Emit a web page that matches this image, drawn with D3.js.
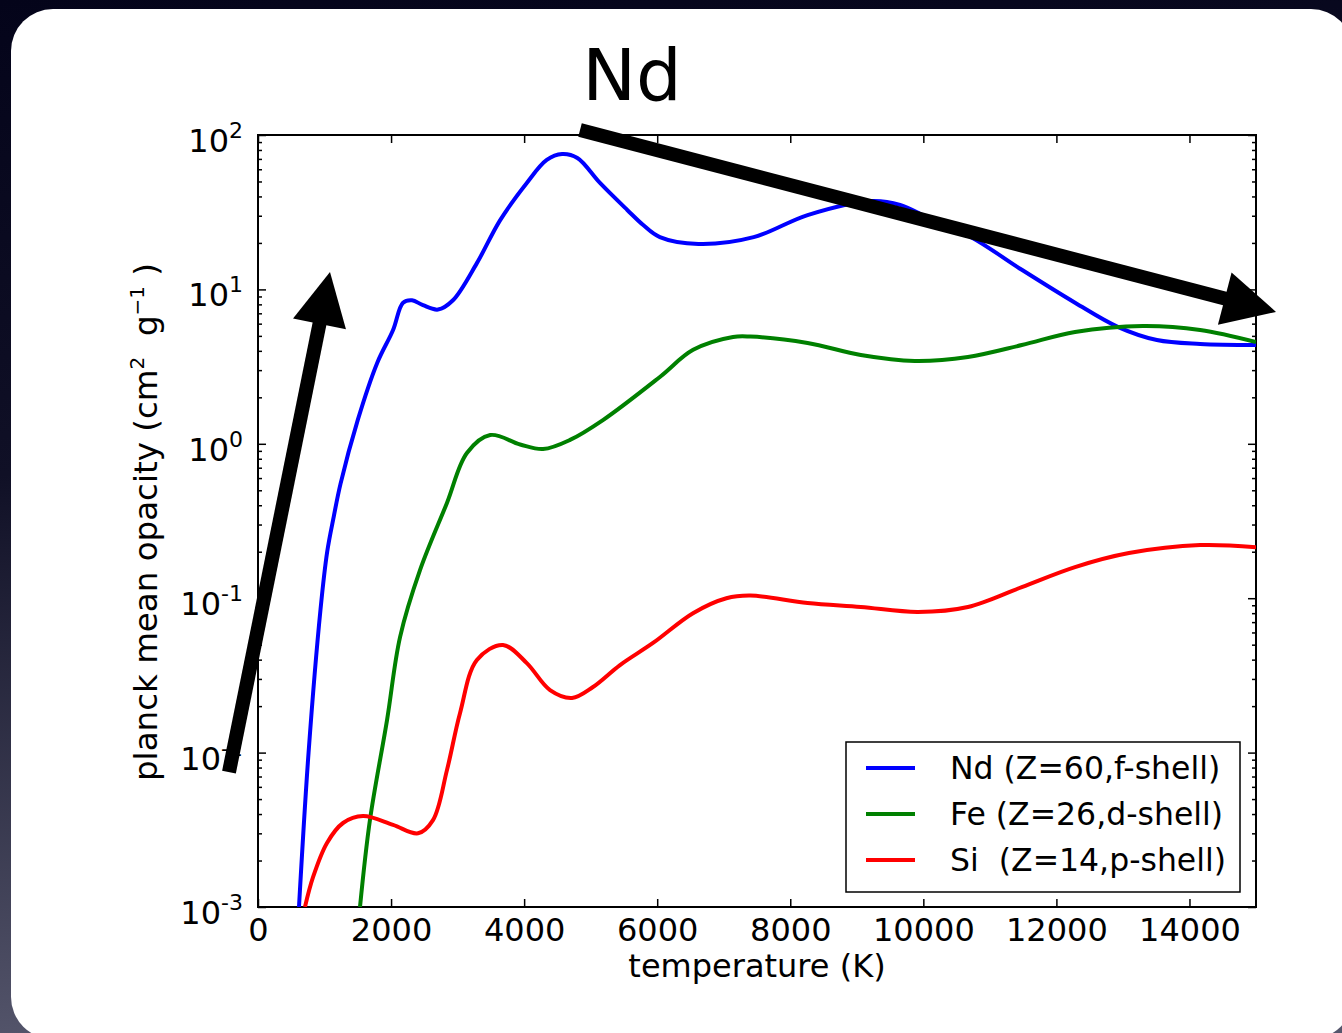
<!DOCTYPE html>
<html>
<head>
<meta charset="utf-8">
<script src="https://cdn.jsdelivr.net/npm/d3@7"></script>
<style>
  html, body { margin: 0; padding: 0; background: #05051a; }
  svg { display: block; }
  text { font-family: "DejaVu Sans", sans-serif; }
</style>
</head>
<body>
<div id="chart"></div>
<script>
'use strict';

// temperatures (K) and planck mean opacities (cm^2/g)
var ndTemp = [616, 760, 940, 1040, 1140, 1240, 1500, 1790, 2030, 2180, 2315, 2480, 2705, 2930,
  3290, 3640, 4040, 4340, 4570, 4800, 5140, 5550, 5790, 6040, 6620, 7450, 8260, 9220, 9650, 10080,
  10720, 11480, 12280, 12930, 13510, 14160, 15000];
var ndOpacity = [1e-3, 1e-2, 0.085, 0.2, 0.34, 0.55, 1.43, 3.33, 5.46, 8.2, 8.5, 7.9, 7.4, 8.5,
  14.8, 28.1, 48.9, 68.9, 75.3, 71, 48.9, 32.7, 26.1, 21.8, 19.7, 21.8, 30.3, 37.4, 35.3, 29,
  21.8, 13.4, 8.2, 5.7, 4.7, 4.43, 4.36];

var feTemp = [1533, 1683, 1940, 2135, 2435, 2840, 3140, 3490, 3940, 4285, 4690, 5190, 6040,
  6540, 7140, 7400, 8260, 9060, 9870, 10670, 11480, 12280, 13300, 14160, 15000];
var feOpacity = [1e-3, 3.67e-3, 0.0163, 0.056, 0.152, 0.414, 0.872, 1.14, 0.99, 0.925, 1.06, 1.43, 2.71,
  4.06, 4.92, 4.95, 4.5, 3.76, 3.44, 3.65, 4.36, 5.3, 5.79, 5.46, 4.56];

var siTemp = [706, 827, 1037, 1278, 1578, 2030, 2405, 2630, 2840, 3036, 3290, 3682, 4040, 4389,
  4720, 5035, 5441, 5937, 6538, 7040, 7400, 8260, 9060, 9920, 10670, 11480, 12280, 13090,
  14160, 15000];
var siOpacity = [1e-3, 1.56e-3, 2.6e-3, 3.5e-3, 3.88e-3, 3.4e-3, 3.0e-3, 3.65e-3, 7.7e-3, 0.018,
  0.0398, 0.0498, 0.038, 0.0254, 0.0226, 0.0266, 0.0369, 0.0513, 0.08, 0.1, 0.104, 0.093,
  0.0877, 0.0815, 0.0877, 0.118, 0.159, 0.196, 0.221, 0.214];

var seriesNames = ['Nd (Z=60,f-shell)', 'Fe (Z=26,d-shell)', 'Si  (Z=14,p-shell)'];
var seriesColors = ['#0000ff', '#008000', '#ff0000'];

var xTicks = [0, 2000, 4000, 6000, 8000, 10000, 12000, 14000];
var yExponents = [2, 1, 0, -1, -2, -3];

// the two hand-drawn arrows, in data units: [temperature, log10 opacity]
var arrows = [
  [[-436, -2.126], [1082, 1.113]],
  [[4840, 2.032], [15301, 0.854]]
];

var W = 1342, H = 1033;
var plot = {left: 258, top: 135, right: 1256, bottom: 907};

var svg = d3.select('#chart').append('svg')
  .attr('width', W)
  .attr('height', H);

// slide background
var grad = svg.append('defs').append('linearGradient')
  .attr('id', 'bg')
  .attr('x1', 0).attr('y1', 0).attr('x2', 0.15).attr('y2', 1);
grad.append('stop').attr('offset', '0%').attr('stop-color', '#04041a');
grad.append('stop').attr('offset', '45%').attr('stop-color', '#101026');
grad.append('stop').attr('offset', '100%').attr('stop-color', '#55566c');

svg.append('rect')
  .attr('width', W).attr('height', H)
  .attr('fill', 'url(#bg)');

svg.append('rect')
  .attr('x', 11).attr('y', 9)
  .attr('width', 1342).attr('height', 1030)
  .attr('rx', 42).attr('ry', 42)
  .attr('fill', '#ffffff');

svg.select('defs').append('clipPath')
  .attr('id', 'plotclip')
  .append('rect')
  .attr('x', plot.left).attr('y', plot.top)
  .attr('width', plot.right - plot.left)
  .attr('height', plot.bottom - plot.top);

var x = d3.scaleLinear().domain([0, 15000]).range([plot.left, plot.right]);
var y = d3.scaleLog().domain([1e-3, 1e2]).range([plot.bottom, plot.top]);

var majors = yExponents.map(function(e) { return Math.pow(10, e); });
var minors = [];
d3.range(-3, 2).forEach(function(e) {
  d3.range(2, 10).forEach(function(m) { minors.push(m * Math.pow(10, e)); });
});

function styleAxis(g) {
  g.select('.domain').remove();
  g.selectAll('line').attr('stroke', '#000').attr('stroke-width', 1.5);
  g.selectAll('text').attr('font-family', '"DejaVu Sans", sans-serif')
    .attr('font-size', 32).attr('fill', '#000');
}

// x axes (ticks inward, top and bottom)
svg.append('g')
  .attr('transform', 'translate(0,' + plot.bottom + ')')
  .call(d3.axisBottom(x).tickValues(xTicks).tickSize(-8).tickSizeOuter(0)
    .tickPadding(11).tickFormat(d3.format('d')))
  .call(styleAxis);

svg.append('g')
  .attr('transform', 'translate(0,' + plot.top + ')')
  .call(d3.axisTop(x).tickValues(xTicks).tickSize(-8).tickSizeOuter(0).tickFormat(''))
  .call(styleAxis);

// y axes, major and minor
[[d3.axisLeft, plot.left], [d3.axisRight, plot.right]].forEach(function(a) {
  svg.append('g')
    .attr('transform', 'translate(' + a[1] + ',0)')
    .call(a[0](y).tickValues(majors).tickSize(-8).tickSizeOuter(0).tickFormat(''))
    .call(styleAxis);
  svg.append('g')
    .attr('transform', 'translate(' + a[1] + ',0)')
    .call(a[0](y).tickValues(minors).tickSize(-4).tickSizeOuter(0).tickFormat(''))
    .call(styleAxis);
});

// y tick labels 10^n
var ylab = svg.append('g').selectAll('text')
  .data(yExponents)
  .join('text')
  .attr('x', 243)
  .attr('y', function(e) { return y(Math.pow(10, e)) + 17; })
  .attr('text-anchor', 'end')
  .attr('font-size', 32);
ylab.append('tspan').text('10');
ylab.append('tspan')
  .attr('font-size', 22)
  .attr('dy', -14)
  .text(function(e) { return String(e); });

// frame
svg.append('rect')
  .attr('x', plot.left).attr('y', plot.top)
  .attr('width', plot.right - plot.left)
  .attr('height', plot.bottom - plot.top)
  .attr('fill', 'none')
  .attr('stroke', '#000')
  .attr('stroke-width', 2);

// axis titles
svg.append('text')
  .attr('x', (plot.left + plot.right) / 2)
  .attr('y', 977)
  .attr('text-anchor', 'middle')
  .attr('font-size', 32)
  .text('temperature (K)');

var yt = svg.append('text')
  .attr('transform', 'translate(157,522) rotate(-90)')
  .attr('text-anchor', 'middle')
  .attr('font-size', 32.5)
  .style('white-space', 'pre');
yt.append('tspan').text('planck mean opacity (cm');
yt.append('tspan').attr('font-size', 20).attr('dy', -13).text('2');
yt.append('tspan').attr('dy', 13).text('  g');
yt.append('tspan').attr('font-size', 20).attr('dy', -13).text('\u22121');
yt.append('tspan').attr('dy', 13).text(' )');

// series
var line = d3.line()
  .x(function(d) { return x(d[0]); })
  .y(function(d) { return y(d[1]); })
  .curve(d3.curveCatmullRom.alpha(0.5));

var series = [
  d3.zip(ndTemp, ndOpacity),
  d3.zip(feTemp, feOpacity),
  d3.zip(siTemp, siOpacity)
];

svg.append('g')
  .attr('clip-path', 'url(#plotclip)')
  .selectAll('path')
  .data(series)
  .join('path')
  .attr('d', line)
  .attr('fill', 'none')
  .attr('stroke', function(d, i) { return seriesColors[i]; })
  .attr('stroke-width', 4)
  .attr('stroke-linejoin', 'round');

// legend
var legend = svg.append('g');
legend.append('rect')
  .attr('x', 846).attr('y', 742)
  .attr('width', 394).attr('height', 150)
  .attr('fill', '#fff')
  .attr('stroke', '#000')
  .attr('stroke-width', 1.5);

var entry = legend.selectAll('g.entry')
  .data(seriesNames)
  .join('g')
  .attr('class', 'entry')
  .attr('transform', function(d, i) { return 'translate(0,' + (768 + i * 46) + ')'; });
entry.append('line')
  .attr('x1', 866).attr('x2', 915)
  .attr('stroke', function(d, i) { return seriesColors[i]; })
  .attr('stroke-width', 4);
entry.append('text')
  .attr('x', 950)
  .attr('y', 11)
  .attr('font-size', 31.5)
  .style('white-space', 'pre')
  .text(function(d) { return d; });

// arrows
function px(p) { return [x(p[0]), y(Math.pow(10, p[1]))]; }
var headLen = 53, headHalf = 27;

arrows.forEach(function(a) {
  var t = px(a[0]), h = px(a[1]);
  var dx = h[0] - t[0], dy = h[1] - t[1];
  var len = Math.sqrt(dx * dx + dy * dy);
  var ux = dx / len, uy = dy / len;
  var bx = h[0] - ux * headLen, by = h[1] - uy * headLen;

  svg.append('line')
    .attr('x1', t[0]).attr('y1', t[1])
    .attr('x2', bx + ux * 2).attr('y2', by + uy * 2)
    .attr('stroke', '#000')
    .attr('stroke-width', 14);

  svg.append('polygon')
    .attr('points', [
      [h[0], h[1]],
      [bx - uy * headHalf, by + ux * headHalf],
      [bx + uy * headHalf, by - ux * headHalf]
    ].map(function(p) { return p.join(','); }).join(' '))
    .attr('fill', '#000');
});

// slide title
svg.append('text')
  .attr('x', 632)
  .attr('y', 100)
  .attr('text-anchor', 'middle')
  .attr('font-family', '"Noto Sans", sans-serif')
  .attr('font-size', 72)
  .text('Nd');
</script>
</body>
</html>
